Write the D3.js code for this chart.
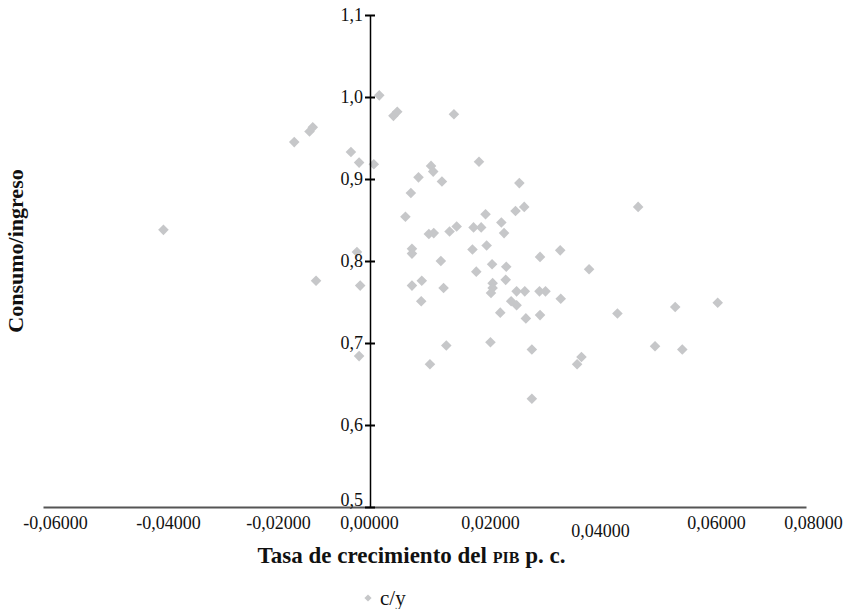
<!DOCTYPE html>
<html>
<head>
<meta charset="utf-8">
<script src="https://cdn.jsdelivr.net/npm/d3@7"></script>
<style>
  body { margin: 0; background: #fff; }
  svg text { font-family: "Liberation Serif", "Times New Roman", serif; fill: #111; }
</style>
</head>
<body>
<script>
// Consumo/ingreso vs. tasa de crecimiento del PIB p. c.

// growth rate of GDP per capita (x) and consumption / income (y)
var growth = [
  0.0017, 0.0043, 0.0050, 0.0154, -0.0111, -0.0105, -0.0139, -0.0035, -0.0020, 0.0007,
  0.0112, 0.0116, 0.0200, 0.0089, 0.0132, 0.0274, 0.0075, 0.0065, 0.0283, 0.0267,
  0.0492, 0.0212, 0.0241, -0.0379, 0.0108, 0.0117, 0.0146, 0.0159, 0.0190, 0.0204,
  0.0246, -0.0024, 0.0077, 0.0077, 0.0130, 0.0188, 0.0214, 0.0349, 0.0312, -0.0099,
  -0.0018, 0.0077, 0.0095, 0.0135, 0.0195, 0.0224, 0.0250, 0.0402, 0.0249, 0.0225,
  0.0225, 0.0222, 0.0269, 0.0284, 0.0311, 0.0322, 0.0350, 0.0094, 0.0259, 0.0269,
  0.0239, 0.0286, 0.0312, 0.0454, 0.0560, 0.0638, 0.0140, 0.0221, 0.0297, 0.0523,
  0.0573, 0.0388, 0.0380, -0.0020, 0.0110, 0.0297
];
var ratio = [
  1.002, 0.977, 0.982, 0.979, 0.958, 0.963, 0.945, 0.933, 0.920, 0.918,
  0.916, 0.909, 0.921, 0.902, 0.897, 0.895, 0.883, 0.854, 0.866, 0.861,
  0.866, 0.857, 0.847, 0.838, 0.833, 0.834, 0.836, 0.842, 0.841, 0.841,
  0.834, 0.811, 0.815, 0.809, 0.800, 0.814, 0.819, 0.813, 0.805, 0.776,
  0.770, 0.770, 0.776, 0.767, 0.787, 0.796, 0.793, 0.790, 0.777, 0.773,
  0.767, 0.761, 0.763, 0.763, 0.763, 0.763, 0.754, 0.751, 0.751, 0.746,
  0.737, 0.730, 0.734, 0.736, 0.744, 0.749, 0.697, 0.701, 0.692, 0.696,
  0.692, 0.683, 0.674, 0.684, 0.674, 0.632
];

var xTicks = [-0.06, -0.04, -0.02, 0, 0.02, 0.04, 0.06, 0.08];
var yTicks = [0.5, 0.6, 0.7, 0.8, 0.9, 1.0, 1.1];
var seriesName = "c/y";

// the original tick labels sit a bit off their ticks
var xLabelShift = [12, 16, 17, -1, 11, 12, 19, 7];
var xLabelDrop  = [0, 0, 0, 0, 0, 8, 0, 0];

var W = 843, H = 609;
var margin = ({top: 15, right: 37, bottom: 102, left: 43});
var width = W - margin.left - margin.right;
var height = H - margin.top - margin.bottom;
var pointColor = "#c6c7c9";

var locale = d3.formatLocale({decimal: ",", thousands: ".", grouping: [3], currency: ["", ""], minus: "-"});
var fmtX = locale.format(".5f");
var fmtY = locale.format(".1f");

var data = growth.map(function(g, i) { return {g: g, r: ratio[i]}; });

var x = d3.scaleLinear()
    .domain([xTicks[0], xTicks[xTicks.length - 1]])
    .range([0, width]);

var y = d3.scaleLinear()
    .domain([yTicks[0], yTicks[yTicks.length - 1]])
    .range([height, 0]);

var svg = d3.select("body").append("svg")
    .attr("width", W)
    .attr("height", H);

var g = svg.append("g")
    .attr("transform", "translate(" + margin.left + "," + margin.top + ")");

var diamond = d3.symbol().type(d3.symbolSquare).size(56);

// points
g.append("g")
    .selectAll("path")
    .data(data)
    .enter().append("path")
    .attr("d", diamond)
    .attr("transform", function(d) { return "translate(" + x(d.g) + "," + y(d.r) + ") rotate(45)"; })
    .attr("fill", pointColor);

// x axis along the bottom, no tick marks
var xAxis = d3.axisBottom(x)
    .tickValues(xTicks)
    .tickSize(0)
    .tickPadding(0)
    .tickFormat(fmtX);

var gx = g.append("g")
    .attr("class", "x axis")
    .attr("transform", "translate(0," + height + ")")
    .call(xAxis);

gx.select(".domain").attr("stroke", "#555").attr("stroke-width", 2);
gx.selectAll(".tick line").remove();
gx.selectAll(".tick text")
    .attr("font-size", 18)
    .attr("dy", null)
    .attr("x", function(d, i) { return xLabelShift[i]; })
    .attr("y", function(d, i) { return 22 + xLabelDrop[i]; });

// y axis crossing at x = 0
var yAxis = d3.axisLeft(y)
    .tickValues(yTicks)
    .tickSize(4)
    .tickPadding(3)
    .tickSizeOuter(0)
    .tickFormat(fmtY);

var gy = g.append("g")
    .attr("class", "y axis")
    .attr("transform", "translate(" + x(0) + ",0)")
    .call(yAxis);

gy.select(".domain").attr("stroke", "#000").attr("stroke-width", 1.5);
gy.selectAll(".tick line")
    .attr("x1", 5)
    .attr("x2", -5)
    .attr("stroke", "#000")
    .attr("stroke-width", 2);
gy.selectAll(".tick text")
    .attr("font-size", 18)
    .attr("dy", function(d) { return d === yTicks[0] ? "-0.1em" : "0.32em"; });

// axis titles
var title = svg.append("text")
    .attr("x", margin.left + width / 2 - 13)
    .attr("y", height + margin.top + 56)
    .attr("text-anchor", "middle")
    .attr("font-size", 23)
    .attr("font-weight", "bold");
title.append("tspan").text("Tasa de crecimiento del ");
title.append("tspan").attr("font-size", 16).text("PIB");
title.append("tspan").text(" p. c.");

svg.append("text")
    .attr("transform", "translate(23," + (margin.top + 236) + ") rotate(-90)")
    .attr("text-anchor", "middle")
    .attr("font-size", 22)
    .attr("font-weight", "bold")
    .text("Consumo/ingreso");

// legend
var legend = svg.append("g")
    .attr("transform", "translate(" + (x(0) + margin.left - 2) + "," + (H - 11) + ")");

legend.append("path")
    .attr("d", d3.symbol().type(d3.symbolSquare).size(26))
    .attr("transform", "rotate(45)")
    .attr("fill", pointColor);

legend.append("text")
    .attr("x", 12)
    .attr("y", 0)
    .attr("dy", "0.32em")
    .attr("font-size", 21)
    .text(seriesName);
</script>
</body>
</html>
